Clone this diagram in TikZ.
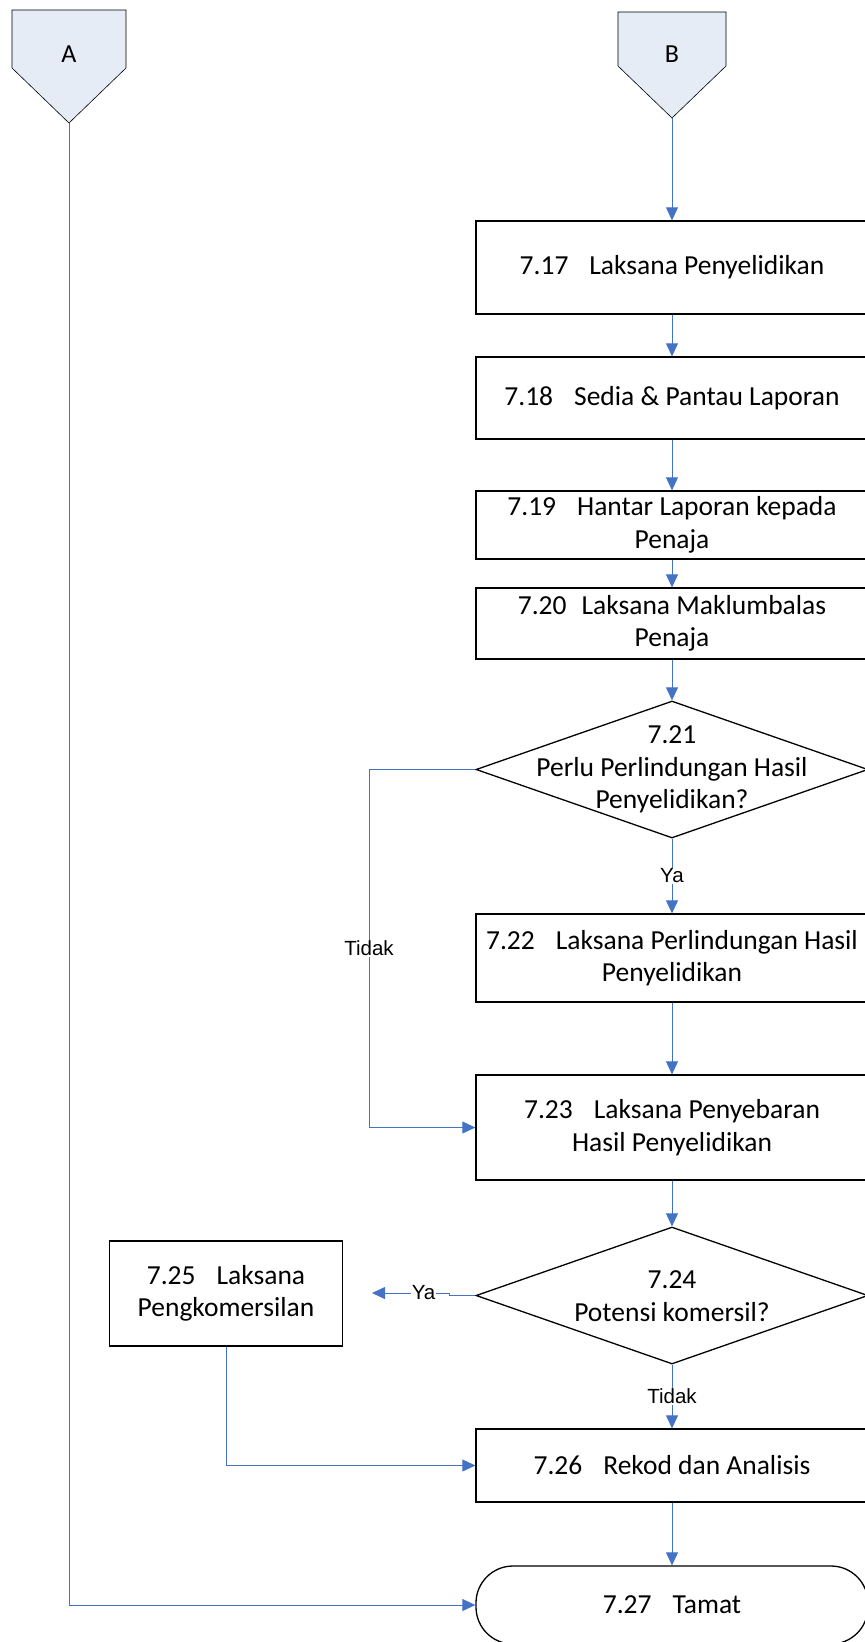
\documentclass[tikz,border=0pt]{standalone}
\usepackage{fontspec}
\setmainfont{Carlito}
\newfontfamily\arialf{Liberation Sans}
\usetikzlibrary{arrows.meta,shapes.geometric}
\definecolor{connblue}{HTML}{4472C4}
\definecolor{pentafill}{HTML}{E6ECF6}
\newcommand{\gp}{\hspace{21pt}}
\tikzset{
 boxfont/.style={font=\fontsize{27.5}{32.5}\selectfont},
 procbox/.style={draw=black,line width=1.3pt,rectangle,minimum width=392pt,inner sep=0pt,align=center,boxfont},
 smallbox/.style={draw=black,line width=1.3pt,rectangle,inner sep=0pt,align=center,boxfont},
 decbox/.style={draw=black,line width=1.3pt,diamond,minimum width=392pt,minimum height=137pt,inner sep=0pt},
 dectext/.style={align=center,boxfont,inner sep=0pt},
 termbox/.style={draw=black,line width=1.3pt,rectangle,rounded corners=37pt,minimum width=392pt,minimum height=78pt,inner sep=0pt,boxfont},
 flow/.style={draw=connblue,line width=0.8pt,-{Triangle[length=13pt,width=12pt]}},
 lbl/.style={fill=white,inner sep=1pt,text=black,font=\arialf\fontsize{20.5}{24}\selectfont},
 pentashape/.style={fill=pentafill,draw=black,line width=0.6pt},
 pentalabel/.style={inner sep=0pt,font=\fontsize{26}{30}\selectfont},
}
\begin{document}
\begin{tikzpicture}[x=1pt,y=-1pt]
\useasboundingbox (0,0) rectangle (865,1642);
\clip (0,0) rectangle (865,1642);

% off-page connectors
\filldraw[pentashape] (12,10) -- (126,10) -- (126,68) -- (69,123) -- (12,68) -- cycle;
\coordinate (Apt) at (69,123);
\node[pentalabel] (A) at (69,54) {A};
\filldraw[pentashape] (618,12) -- (726,12) -- (726,66) -- (672,118) -- (618,66) -- cycle;
\coordinate (Bpt) at (672,118);
\node[pentalabel] (B) at (672,54) {B};

% process boxes
\node[procbox,minimum height=93pt] (b17) at (672,267.5) {7.17\gp Laksana Penyelidikan};
\node[procbox,minimum height=82pt] (b18) at (672,398) {7.18\gp Sedia \& Pantau Laporan};
\node[procbox,minimum height=68pt] (b19) at (672,525) {7.19\gp Hantar Laporan kepada\\Penaja};
\node[procbox,minimum height=71pt] (b20) at (672,623.5) {7.20\hspace{15pt}Laksana Maklumbalas\\Penaja};
\node[decbox] (d21) at (672,769.5) {};
\node[dectext] (d21t) at (672,769.5) {7.21\\Perlu Perlindungan Hasil\\Penyelidikan?};
\node[procbox,minimum height=88pt] (b22) at (672,958) {7.22\gp Laksana Perlindungan Hasil\\Penyelidikan};
\node[procbox,minimum height=105pt] (b23) at (672,1127.5) {7.23\gp Laksana Penyebaran\\Hasil Penyelidikan};
\node[decbox] (d24) at (672,1295.5) {};
\node[dectext] (d24t) at (672,1296) {7.24\\Potensi komersil?};
\node[smallbox,minimum width=233pt,minimum height=105pt] (b25) at (226,1293.5) {7.25\gp Laksana\\Pengkomersilan};
\node[procbox,minimum height=73pt] (b26) at (672,1465.5) {7.26\gp Rekod dan Analisis};
\node[termbox] (t27) at (672,1605) {7.27\gp Tamat};

% helper coordinates
\coordinate (tk1) at (369,769.5);
\coordinate (j1) at (449,1295.5);
\coordinate (j2) at (449,1293);
\coordinate (yend) at (372,1293);

% connectors
\draw[flow] (Bpt) -- (b17.north);
\draw[flow] (b17) -- (b18);
\draw[flow] (b18) -- (b19);
\draw[flow] (b19) -- (b20);
\draw[flow] (b20.south) -- (d21.north);
\draw[flow] (d21.south) -- node[lbl]{Ya} (b22.north);
\draw[flow] (d21.west) -- (tk1) -- node[lbl]{Tidak} (tk1 |- b23.west) -- (b23.west);
\draw[flow] (b22) -- (b23);
\draw[flow] (b23.south) -- (d24.north);
\draw[flow] (d24.west) -- (j1) -- (j2) -- node[lbl,pos=0.33]{Ya} (yend);
\draw[flow] (d24.south) -- node[lbl]{Tidak} (b26.north);
\draw[flow] (b25.south) |- (b26.west);
\draw[flow] (b26) -- (t27);
\draw[flow] (Apt) |- (t27.west);
\end{tikzpicture}
\end{document}
